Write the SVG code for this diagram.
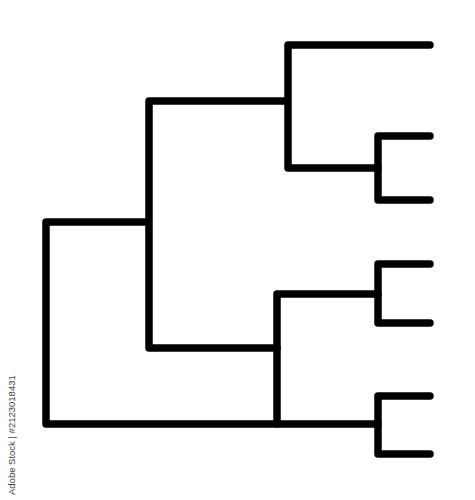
<svg xmlns="http://www.w3.org/2000/svg" width="475" height="500" viewBox="0 0 475 500">
<style>
.e{fill:none;stroke:#000;stroke-width:7.5;stroke-linecap:round;stroke-linejoin:round}
.wm{font-family:"Liberation Sans",Arial,sans-serif;font-size:9.5px;fill:#444}
</style>
<rect width="475" height="500" fill="#fff"/>
<g id="connectors">
<path class="e" d="M148,222 L46,222 L46,424 L378,424"/>
<path class="e" d="M277,424 L277,294 L378,294"/>
<path class="e" d="M287,101 L149,101 L149,348 L277,348"/>
<path class="e" d="M430,45 L288,45 L288,168 L378,168"/>
<path class="e" d="M430,136 L378,136 L378,200 L430,200"/>
<path class="e" d="M430,264 L378,264 L378,323 L430,323"/>
<path class="e" d="M430,396 L378,396 L378,454 L430,454"/>
</g>
<g id="watermark">
<text class="wm" transform="translate(15,495) rotate(-90)">Adobe Stock | #2123018431</text>
</g>
</svg>
